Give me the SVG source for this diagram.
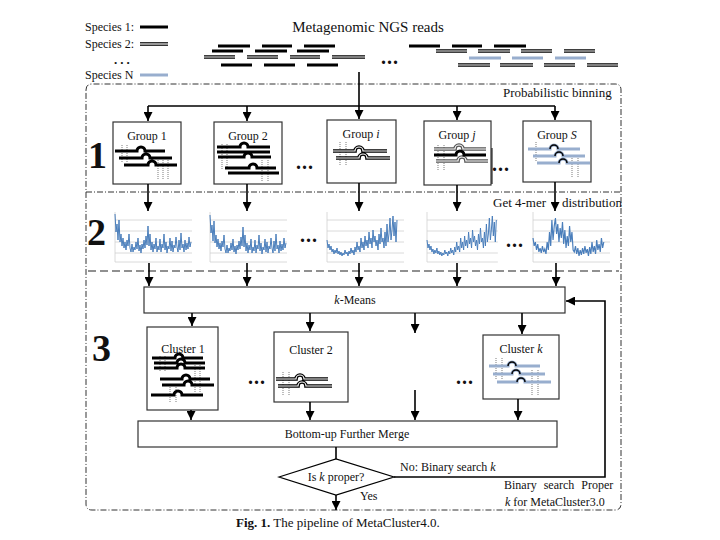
<svg xmlns="http://www.w3.org/2000/svg" xmlns:xlink="http://www.w3.org/1999/xlink" width="720" height="540" viewBox="0 0 720 540">
<defs>
<style>
text{font-family:"Liberation Serif","Times New Roman",serif;fill:#111}
.t12{font-size:12px}
.t13{font-size:13px}
.mid{text-anchor:middle}
.dots{font-size:20px;font-weight:bold;letter-spacing:1px}
.big{font-size:38px;font-weight:bold}
.box{fill:#fff;stroke:#333;stroke-width:1.2}
.con{fill:none;stroke:#000;stroke-width:1.6}
.rb{fill:none;stroke:#000;stroke-width:3}
.rd{fill:none;stroke:#000;stroke-width:3.6}
.rw{fill:none;stroke:#fff;stroke-width:1.2}
.rl{fill:none;stroke:#98aece;stroke-width:3}
.dt{fill:none;stroke:#444;stroke-width:0.7;stroke-dasharray:1 1}
.frame{fill:none;stroke:#333;stroke-width:1;stroke-dasharray:6 2 1 2}
.dash{fill:none;stroke:#222;stroke-width:1.2;stroke-dasharray:8 4}
.grid{fill:none;stroke:#d0d0d0;stroke-width:0.8}
.plot{fill:none;stroke:#4a7ebb;stroke-width:1}
</style>
<marker id="arr" viewBox="0 0 10 10" refX="10" refY="5" markerWidth="9" markerHeight="9" markerUnits="userSpaceOnUse" orient="auto">
<path d="M0,0 L10,5 L0,10 z" fill="#000"/>
</marker>
<g id="grid">
<path class="grid" d="M0,0 V50 M0,8 H77 M0,19 H77 M0,30 H77 M0,41 H77 M0,50 H77"/>
</g>
<polyline id="pa" class="plot" points="0,2 1,20 2,12 3,28 4,8 5,30 6,22 7,34 8,26 9,36 10,30 11,38 12,28 13,34 14,22 15,36 16,40 17,32 18,40 19,35 20,38 21,30 22,37 23,26 24,39 25,33 26,41 27,32 28,37 29,28 30,36 31,24 32,33 33,14 34,34 35,22 36,38 37,30 38,40 39,32 40,37 41,26 42,40 43,34 44,38 45,27 46,40 47,32 48,36 49,22 50,38 51,30 52,41 53,34 54,37 55,26 56,39 57,29 58,40 59,33 60,36 61,25 62,35 63,40 64,28 65,38 66,21 67,36 68,32 69,40 70,28 71,38 72,31 73,37 74,25 75,35 76,30"/>
<polyline id="pb" class="plot" points="0,28 1,36 2,32 3,38 4,34 5,40 6,37 7,42 8,38 9,41 10,36 11,42 12,39 13,43 14,40 15,44 16,41 17,43 18,38 19,42 20,40 21,44 22,39 23,42 24,36 25,41 26,38 27,43 28,35 29,40 30,30 31,38 32,34 33,40 34,26 35,36 36,30 37,38 38,24 39,34 40,28 41,36 42,20 43,32 44,26 45,36 46,18 47,30 48,24 49,34 50,28 51,38 52,22 53,32 54,16 55,30 56,26 57,36 58,20 59,34 60,12 61,30 62,22 63,6 64,28 65,18 66,4 67,24 68,10 69,30 70,8"/>
<polyline id="pc" class="plot" points="0,26 1,34 2,30 3,38 4,32 5,40 6,36 7,41 8,34 9,40 10,37 11,42 12,30 13,38 14,20 15,34 16,8 17,28 18,14 19,6 20,22 21,12 22,30 23,16 24,26 25,10 26,32 27,18 28,36 29,24 30,34 31,14 32,30 33,20 34,38 35,40 36,34 37,42 38,36 39,44 40,38 41,43 42,36 43,42 44,34 45,41 46,37 47,44 48,35 49,42 50,30 51,40 52,34 53,42 54,28 55,38 56,32 57,40 58,26 59,36 60,30"/>
</defs>
<rect width="720" height="540" fill="#fff"/>

<!-- legend -->
<g id="legend">
<text class="t12" x="85" y="31">Species 1:</text>
<path class="rb" d="M140,27 H168"/>
<text class="t12" x="85" y="48">Species 2:</text>
<path class="rd" d="M140,44 H168"/><path class="rw" d="M140,44 H168"/>
<text class="dots" x="114" y="64" style="font-size:13px;letter-spacing:3px">...</text>
<text class="t12" x="85" y="79">Species N</text>
<path class="rl" d="M140,75 H168"/>
</g>

<!-- reads -->
<g id="reads">
<text class="mid" x="368" y="32" style="font-size:15px">Metagenomic NGS reads</text>
<path class="rb" d="M218,46H250M262,46H292M304,46H335M212,51H243M255,51H287M297,51H329M221,65H252M264,65H295M307,65H338M409,46H440M452,46H482M494,46H526"/>
<path class="rd" d="M204,57H235M247,57H278M290,57H320M332,57H365M436,51H467M478,51H510M521,51H552M564,51H595M458,65H490M500,65H533M544,65H575M587,65H618"/>
<path class="rw" d="M204,57H235M247,57H278M290,57H320M332,57H365M436,51H467M478,51H510M521,51H552M564,51H595M458,65H490M500,65H533M544,65H575M587,65H618"/>
<path class="rl" d="M469,58H501M512,58H543M555,58H586"/>
<text class="dots" x="381" y="64">...</text>
</g>

<!-- frame -->
<g id="frame">
<path class="frame" d="M86,90 Q86,84 92,84 H615 Q621,84 621,90 V504 Q621,510 615,510 H92 Q86,510 86,504 Z"/>
<path class="frame" d="M86,192 H621"/>
<path class="dash" d="M88,271 H619"/>
<text class="t13" x="503" y="97">Probabilistic binning</text>
<text class="t13" x="493" y="207">Get 4-mer<tspan x="562">distribution</tspan></text>
<text class="big" x="88" y="168">1</text>
<text class="big" x="87" y="245">2</text>
<text class="big" x="92" y="361">3</text>
</g>

<!-- section 1 groups -->
<g id="group1">
<rect class="box" x="113" y="122" width="68" height="62"/>
<text class="t12 mid" x="147" y="140">Group 1</text>
<path class="dt" d="M122,145V163M127,145V163M158,158V180M163,158V180M168,158V180"/>
<path class="rb" d="M115,151H137A4,4 0 0 1 145,151H165M119,158H142A4,4 0 0 1 150,158H172M124,165H148A4,4 0 0 1 156,165H177"/>
</g>
<g id="group2">
<rect class="box" x="214" y="122" width="68" height="62"/>
<text class="t12 mid" x="248" y="140">Group 2</text>
<path class="dt" d="M222,144V170M227,144V170M262,160V182M268,160V182"/>
<path class="rb" d="M217,147H240A4,4 0 0 1 248,147H270M217,152H270M218,157H244A4,4 0 0 1 252,157H271M225,168H249A4,4 0 0 1 257,168H276M228,173H279"/>
</g>
<g id="groupi">
<rect class="box" x="327" y="120" width="69" height="63"/>
<text class="t12 mid" x="361" y="138">Group <tspan font-style="italic">i</tspan></text>
<path class="dt" d="M340,142V165M346,142V165"/>
<path class="rd" d="M333,151H355A4,4 0 0 1 363,151H387M336,158H359A4,4 0 0 1 367,158H390"/>
<path class="rw" d="M333,151H355A4,4 0 0 1 363,151H387M336,158H359A4,4 0 0 1 367,158H390"/>
</g>
<g id="groupj">
<rect class="box" x="424" y="121" width="67" height="64"/>
<text class="t12 mid" x="457" y="139">Group <tspan font-style="italic">j</tspan></text>
<path class="dt" d="M438,145V170M444,145V170"/>
<path class="rd" d="M434,149H455A4,4 0 0 1 463,149H486M436,161H458A4,4 0 0 1 466,161H488" style="stroke:#555"/>
<path class="rw" d="M434,149H455A4,4 0 0 1 463,149H486M436,161H458A4,4 0 0 1 466,161H488"/>
<path class="rb" d="M434,155H456A4,4 0 0 1 464,155H486"/>
<path class="con" d="M492,148V184" style="stroke-width:1"/>
</g>
<g id="groupS">
<rect class="box" x="523" y="121" width="68" height="61"/>
<text class="t12 mid" x="557" y="139">Group <tspan font-style="italic">S</tspan></text>
<path class="dt" d="M536,142V162M572,158V178M578,158V178"/>
<path class="rl" d="M528,149H550A4,4 0 0 1 558,149H580M533,156H555A4,4 0 0 1 563,156H585M537,163H559A4,4 0 0 1 567,163H590"/>
<path class="rb" d="M550,149A4,4 0 0 1 558,149M555,156A4,4 0 0 1 563,156M559,163A4,4 0 0 1 567,163" style="stroke-width:1.5"/>
</g>
<text class="dots" x="296" y="169">...</text>
<text class="dots" x="492" y="171">...</text>

<!-- section 2 charts -->
<g id="chart1" transform="translate(115,212)"><use xlink:href="#grid"/><use xlink:href="#pa"/></g>
<g id="chart2" transform="translate(210,212)"><use xlink:href="#grid"/><use xlink:href="#pa" transform="translate(0,1)"/></g>
<g id="chart3" transform="translate(327,212)"><use xlink:href="#grid"/><use xlink:href="#pb"/></g>
<g id="chart4" transform="translate(427,212)"><use xlink:href="#grid" transform="scale(0.92,1)"/><use xlink:href="#pb" transform="scale(0.99,1)"/></g>
<g id="chart5" transform="translate(533,212)"><use xlink:href="#grid"/><use xlink:href="#pc" transform="scale(1.18,1)"/></g>
<text class="dots" x="300" y="242">...</text>
<text class="dots" x="506" y="247">...</text>

<!-- section 3 -->
<g id="kmeans">
<rect class="box" x="144" y="287" width="421" height="26"/>
<text class="t12 mid" x="355" y="304"><tspan font-style="italic">k</tspan>-Means</text>
</g>
<g id="cluster1">
<rect class="box" x="147" y="327" width="71" height="83"/>
<text class="t12 mid" x="183" y="353">Cluster 1</text>
<path class="dt" d="M160,356V372M165,356V372M195,365V392M200,365V392M170,385V402M176,385V402"/>
<path class="rb" d="M152,358H175A4,4 0 0 1 183,358H203M154,363H177A4,4 0 0 1 185,363H205M154,368H177A4,4 0 0 1 185,368H205M160,379H182A4,4 0 0 1 190,379H210M162,385H184A4,4 0 0 1 192,385H214M151,395H174A4,4 0 0 1 182,395H203"/>
</g>
<g id="cluster2">
<rect class="box" x="274" y="332" width="74" height="70"/>
<text class="t12 mid" x="311" y="354">Cluster 2</text>
<path class="dt" d="M283,372V396M289,372V396"/>
<path class="rd" d="M276,379H296A4,4 0 0 1 304,379H328M278,386H298A4,4 0 0 1 306,386H332"/>
<path class="rw" d="M276,379H296A4,4 0 0 1 304,379H328M278,386H298A4,4 0 0 1 306,386H332"/>
</g>
<g id="clusterk">
<rect class="box" x="483" y="335" width="76" height="64"/>
<text class="t12 mid" x="521" y="353">Cluster <tspan font-style="italic">k</tspan></text>
<path class="dt" d="M496,358V380M502,358V380M532,370V395M538,370V395"/>
<path class="rl" d="M489,366H508A4,4 0 0 1 516,366H540M493,374H512A4,4 0 0 1 520,374H545M497,382H517A4,4 0 0 1 525,382H551"/>
<path class="rb" d="M508,366A4,4 0 0 1 516,366M512,374A4,4 0 0 1 520,374M517,382A4,4 0 0 1 525,382" style="stroke-width:1.5"/>
</g>
<text class="dots" x="248" y="384">...</text>
<text class="dots" x="456" y="384">...</text>
<g id="merge">
<rect class="box" x="138" y="421" width="419" height="26"/>
<text class="t12 mid" x="347" y="438">Bottom-up Further Merge</text>
</g>
<g id="decision">
<path class="box" d="M279,477 L336,459 L394,477 L336,495 Z" style="stroke:#000"/>
<text class="t12 mid" x="336" y="481">Is <tspan font-style="italic">k</tspan> proper?</text>
</g>
<g id="labels">
<text class="t12" x="400" y="471">No: Binary search <tspan font-style="italic">k</tspan></text>
<text class="t12" x="504" y="489" style="word-spacing:4px">Binary search Proper</text>
<text class="t12" x="505" y="506"><tspan font-style="italic">k</tspan> for MetaCluster3.0</text>
<text class="t12" x="360" y="500">Yes</text>
<text class="t13" x="236" y="527"><tspan font-weight="bold">Fig. 1.</tspan> The pipeline of MetaCluster4.0.</text>
</g>

<!-- connectors -->
<g id="connectors">
<path class="con" d="M359,72 V119" marker-end="url(#arr)"/>
<path class="con" d="M148,106 H555"/>
<path class="con" d="M148,106 V121" marker-end="url(#arr)"/>
<path class="con" d="M247,106 V121" marker-end="url(#arr)"/>
<path class="con" d="M457,106 V120" marker-end="url(#arr)"/>
<path class="con" d="M555,106 V120" marker-end="url(#arr)"/>
<path class="con" d="M148,184 V211" marker-end="url(#arr)"/>
<path class="con" d="M247,184 V211" marker-end="url(#arr)"/>
<path class="con" d="M359,183 V211" marker-end="url(#arr)"/>
<path class="con" d="M457,185 V211" marker-end="url(#arr)"/>
<path class="con" d="M555,182 V211" marker-end="url(#arr)"/>
<path class="con" d="M149,263 V286" marker-end="url(#arr)"/>
<path class="con" d="M247,263 V286" marker-end="url(#arr)"/>
<path class="con" d="M359,263 V286" marker-end="url(#arr)"/>
<path class="con" d="M457,263 V286" marker-end="url(#arr)"/>
<path class="con" d="M556,263 V286" marker-end="url(#arr)"/>
<path class="con" d="M192,313 V326" marker-end="url(#arr)"/>
<path class="con" d="M310,313 V331" marker-end="url(#arr)"/>
<path class="con" d="M415,313 V333" marker-end="url(#arr)"/>
<path class="con" d="M522,313 V334" marker-end="url(#arr)"/>
<path class="con" d="M191,410 V420" marker-end="url(#arr)"/>
<path class="con" d="M310,402 V420" marker-end="url(#arr)"/>
<path class="con" d="M415,390 V420" marker-end="url(#arr)"/>
<path class="con" d="M518,399 V420" marker-end="url(#arr)"/>
<path class="con" d="M336,447 V459"/>
<path class="con" d="M336,495 V510" marker-end="url(#arr)"/>
<path class="con" d="M394,477 H605 V301 H566" marker-end="url(#arr)"/>
</g>
</svg>
